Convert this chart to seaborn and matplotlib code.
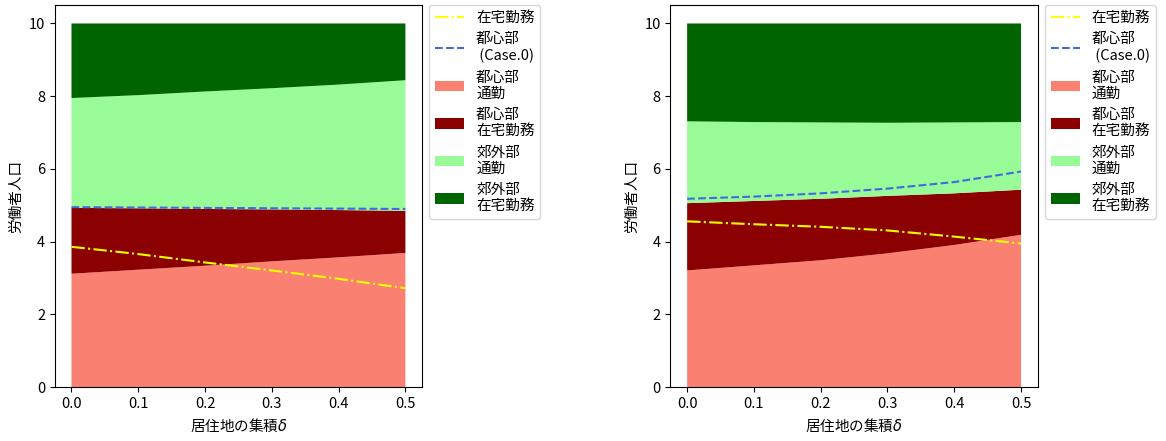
import numpy as np
import pandas as pd
import matplotlib
matplotlib.use('Agg')
import matplotlib.pyplot as plt
import seaborn as sns

plt.rcParams['font.family'] = ['Noto Sans CJK JP', 'DejaVu Sans']
plt.rcParams['mathtext.fontset'] = 'dejavusans'

delta = [0.0, 0.1, 0.2, 0.3, 0.4, 0.5]

# left panel
L_center_commute = [3.12, 3.23, 3.34, 3.46, 3.57, 3.69]
L_center_tele    = [1.81, 1.69, 1.56, 1.43, 1.30, 1.16]
L_suburb_commute = [3.02, 3.11, 3.23, 3.33, 3.45, 3.59]
L_suburb_tele    = [2.05, 1.97, 1.87, 1.78, 1.68, 1.56]
L_tele_total     = [3.86, 3.66, 3.43, 3.21, 2.98, 2.72]
L_case0          = [4.95, 4.94, 4.93, 4.92, 4.91, 4.90]

# right panel
R_center_commute = [3.21, 3.35, 3.49, 3.68, 3.91, 4.19]
R_center_tele    = [1.85, 1.77, 1.69, 1.58, 1.42, 1.24]
R_suburb_commute = [2.25, 2.17, 2.10, 2.01, 1.95, 1.86]
R_suburb_tele    = [2.69, 2.71, 2.72, 2.73, 2.72, 2.71]
R_tele_total     = [4.56, 4.48, 4.41, 4.31, 4.14, 3.95]
R_case0          = [5.18, 5.24, 5.33, 5.46, 5.64, 5.93]

area_labels = ['都心部\n通勤', '都心部\n在宅勤務', '郊外部\n通勤', '郊外部\n在宅勤務']
area_colors = ['salmon', 'darkred', 'palegreen', 'darkgreen']

panels = [
    (L_center_commute, L_center_tele, L_suburb_commute, L_suburb_tele, L_tele_total, L_case0),
    (R_center_commute, R_center_tele, R_suburb_commute, R_suburb_tele, R_tele_total, R_case0),
]

fig = plt.figure(figsize=(11.66, 4.41), dpi=100)
positions = [[0.047, 0.122, 0.315, 0.866], [0.575, 0.122, 0.315, 0.866]]

for pos, (cc, ct, sc, st, tt, c0) in zip(positions, panels):
    ax = fig.add_axes(pos)
    df = pd.DataFrame({'delta': delta, 'tele': tt, 'case0': c0})
    sns.lineplot(data=df, x='delta', y='tele', ax=ax, color='yellow', ls='-.', label='在宅勤務')
    sns.lineplot(data=df, x='delta', y='case0', ax=ax, color='royalblue', ls='--', label='都心部\n (Case.0)')
    ax.stackplot(delta, cc, ct, sc, st, colors=area_colors, labels=area_labels, zorder=1)
    ax.set_ylim(0, 10.5)
    ax.set_xlim(-0.025, 0.525)
    ax.set_xticks(delta)
    ax.set_xticklabels([f'{d:.1f}' for d in delta])
    ax.tick_params(labelsize=10.5)
    ax.set_xlabel('居住地の集積$\\delta$', fontsize=10.5)
    ax.set_ylabel('労働者人口', fontsize=10.5)
    ax.legend(loc='upper left', bbox_to_anchor=(1.02, 1.0), borderaxespad=0, fontsize=10.5)

plt.savefig('out.png', dpi=100)
